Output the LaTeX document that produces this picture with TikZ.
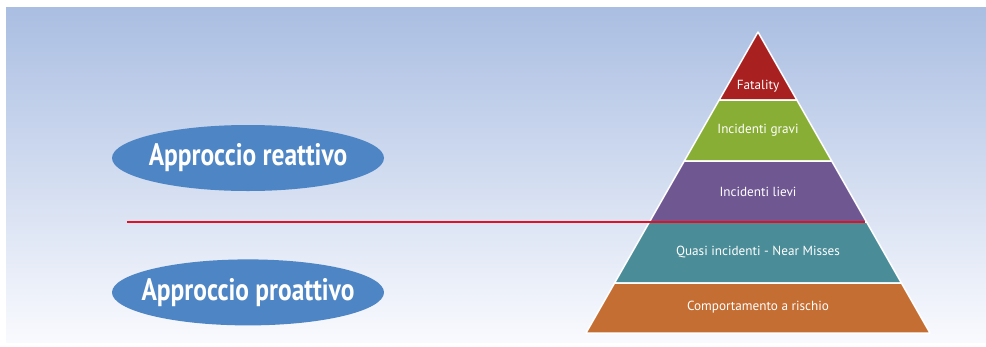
\documentclass[tikz,border=0pt]{standalone}
\usepackage{fontspec}
\usepackage{tikz}
\setmainfont{PT Sans}
\newfontfamily\condfont[FakeStretch=0.82]{PT Sans}
\usetikzlibrary{shapes.geometric, positioning, calc}
\definecolor{bgTop}{RGB}{170, 190, 226}
\definecolor{bgBottom}{RGB}{249, 250, 254}
\definecolor{approachBlue}{RGB}{78, 133, 197}
\definecolor{dividerRed}{RGB}{226, 16, 36}
\definecolor{levelRed}{RGB}{168, 32, 32}
\definecolor{levelGreen}{RGB}{137, 174, 54}
\definecolor{levelPurple}{RGB}{111, 87, 146}
\definecolor{levelTeal}{RGB}{74, 140, 151}
\definecolor{levelOrange}{RGB}{196, 110, 51}

\begin{document}
\begin{tikzpicture}[
    x=1pt, y=-1pt,
    approach/.style={
        ellipse,
        fill=approachBlue,
        minimum width=272pt,
        minimum height=66pt,
        inner sep=0pt,
        text=white,
        font=\condfont\bfseries\fontsize{31}{32}\selectfont
    },
    level/.style={text=white, font=\fontsize{13.2}{14}\selectfont},
    divider/.style={line width=2.4pt, dividerRed}
]
    \useasboundingbox (0,0) rectangle (986,346);
    \shade[top color=bgTop, bottom color=bgBottom] (6,7) rectangle (986,342);

    % Pyramid
    \foreach \ya/\yb/\col in {32/100/levelRed, 100/161/levelGreen, 161/222/levelPurple,
                              222/283/levelTeal, 283/333/levelOrange} {
        \pgfmathsetmacro\ha{(\ya-32)*0.5714}
        \pgfmathsetmacro\hb{(\yb-32)*0.5714}
        \filldraw[fill=\col, draw=white, line width=1.5pt, line join=round]
            ({758-\ha},\ya) -- ({758+\ha},\ya) -- ({758+\hb},\yb) -- ({758-\hb},\yb) -- cycle;
    }
    \node[level] (fatality) at (758,86) {Fatality};
    \node[level] (gravi) at (758,130) {Incidenti gravi};
    \node[level] (lievi) at (758,192) {Incidenti lievi};
    \node[level] (quasi) at (758,252) {Quasi incidenti - Near Misses};
    \node[level] (rischio) at (758,307) {Comportamento a rischio};

    % Approaches
    \node[approach] (reattivo) at (248,158) {\makebox[0pt]{Approccio reattivo}};
    \node[approach, below=68pt of reattivo] (proattivo) {\makebox[0pt]{Approccio proattivo}};

    % Divider
    \coordinate (lineStart) at (127,222);
    \coordinate (lineEnd) at (865,222);
    \draw[divider] (lineStart) -- (lineEnd);
\end{tikzpicture}
\end{document}
